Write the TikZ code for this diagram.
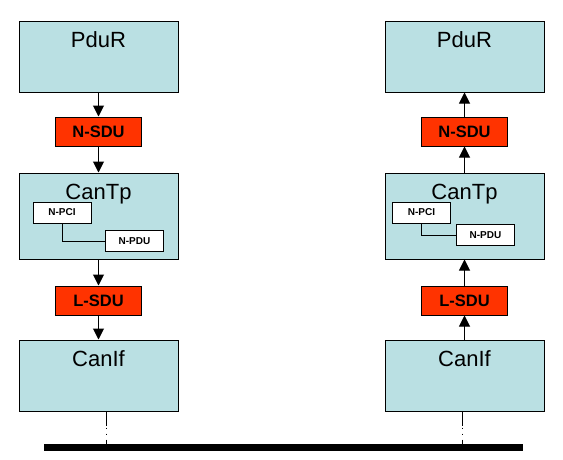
\documentclass[tikz,border=0pt]{standalone}
\usepackage{fontspec}
\setmainfont{Liberation Sans}
\usetikzlibrary{positioning,arrows.meta}
\definecolor{layerblue}{RGB}{186,224,227}
\definecolor{sdured}{RGB}{255,51,0}

\begin{document}
\begin{tikzpicture}[x=1pt, y=-1pt,
	layer/.style={draw, line width=1pt, fill=layerblue, minimum width=159pt, minimum height=71pt, inner sep=0pt},
	sdu/.style={draw, line width=1pt, fill=sdured, minimum width=86pt, minimum height=29pt, inner sep=0pt, font=\bfseries\fontsize{16.5}{19}\selectfont},
	pci/.style={draw, line width=0.8pt, fill=white, minimum width=58pt, minimum height=21pt, inner sep=0pt, font=\bfseries\fontsize{10}{12}\selectfont},
	lbl/.style={inner sep=0pt, font=\fontsize{22}{26}\selectfont},
	a/.style={-{Triangle[width=11pt,length=11pt]}, line width=1pt},
	bus/.style={line width=7pt},
	tap/.style={line width=1pt, dash pattern=on 14pt off 2pt on 1pt off 5pt on 1pt off 5pt on 20pt off 0pt}]
		\useasboundingbox (0,0) rectangle (563,459);

		% sender side
		\node[layer] (pdurL) at (98.5,56.5) {};
		\node[lbl, below=11pt of pdurL.north] (pdurL_label) {PduR};
		\node[sdu, below=24pt of pdurL] (nsduL) {N-SDU};
		\node[layer, minimum height=86pt, below=26pt of nsduL] (cantpL) {};
		\node[lbl, below=11pt of cantpL.north] (cantpL_label) {CanTp};
		\node[sdu, below=26pt of cantpL] (lsduL) {L-SDU};
		\node[layer, below=24pt of lsduL] (canifL) {};
		\node[lbl, below=11pt of canifL.north] (canifL_label) {CanIf};
		\node[pci] (npciL) at (62,212.5) {N-PCI};
		\node[pci] (npduL) at (134.5,241) {N-PDU};

		% receiver side
		\node[layer, right=206pt of pdurL] (pdurR) {};
		\node[lbl, below=11pt of pdurR.north] (pdurR_label) {PduR};
		\node[sdu, below=24pt of pdurR] (nsduR) {N-SDU};
		\node[layer, minimum height=86pt, below=26pt of nsduR] (cantpR) {};
		\node[lbl, below=11pt of cantpR.north] (cantpR_label) {CanTp};
		\node[sdu, below=26pt of cantpR] (lsduR) {L-SDU};
		\node[layer, below=24pt of lsduR] (canifR) {};
		\node[lbl, below=11pt of canifR.north] (canifR_label) {CanIf};
		\node[pci] (npciR) at (421.5,212.5) {N-PCI};
		\node[pci] (npduR) at (485.5,235) {N-PDU};

		\draw[a] (pdurL) -- (nsduL);
		\draw[a] (nsduL) -- (cantpL);
		\draw[a] (cantpL) -- (lsduL);
		\draw[a] (lsduL) -- (canifL);
		\draw[a] (canifR) -- (lsduR);
		\draw[a] (lsduR) -- (cantpR);
		\draw[a] (cantpR) -- (nsduR);
		\draw[a] (nsduR) -- (pdurR);
		\draw[line width=0.8pt] (npciL) |- (npduL);
		\draw[line width=0.8pt] (npciR) |- (npduR);

		% bus
		\coordinate (busW) at (44,447.5);
		\coordinate (busE) at (523,447.5);
		\draw[tap] ([xshift=7.5pt]canifL.south) -- ([xshift=7.5pt]canifL.south |- busW);
		\draw[tap] ([xshift=-2.5pt]canifR.south) -- ([xshift=-2.5pt]canifR.south |- busW);
		\draw[bus] (busW) -- (busE);
	\end{tikzpicture}
\end{document}
